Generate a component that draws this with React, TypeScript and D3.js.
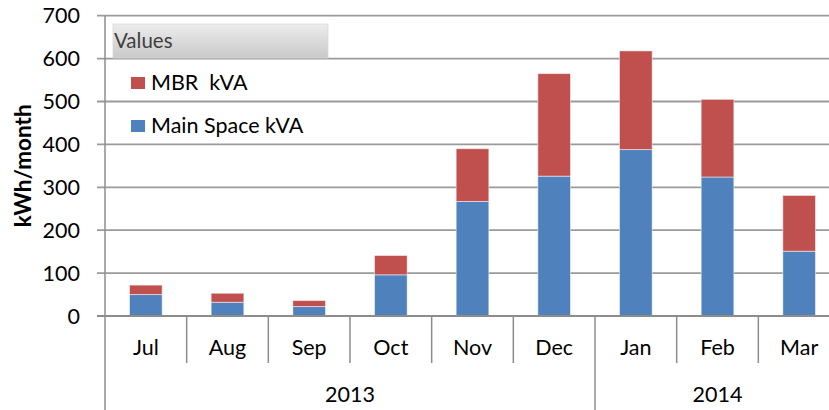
import { useEffect } from "react";
import * as d3 from "d3";

const months = ["Jul", "Aug", "Sep", "Oct", "Nov", "Dec", "Jan", "Feb", "Mar"];
const years = [
  { label: "2013", from: "Jul", to: "Dec" },
  { label: "2014", from: "Jan", to: "Mar" },
];
const mainSpace = [50, 32, 22, 96, 267, 326, 388, 324, 151];
const mbr = [22, 21, 14, 45, 123, 239, 230, 181, 130];
const yTicks = [0, 100, 200, 300, 400, 500, 600, 700];

const BLUE = "#4F81BD";
const RED = "#C0504D";
const AXIS = "#8c8c8c";
const FONT = "Lato, 'Open Sans', sans-serif";

export default function App() {
  useEffect(() => {
    document.body.style.margin = "0";
  }, []);

  const width = 829;
  const height = 410;
  const left = 105;
  const right = 840;
  const top = 15.7;
  const bottom = 316;

  const x = d3
    .scaleBand<string>()
    .domain(months)
    .range([left, right])
    .paddingInner(0.6)
    .paddingOuter(0.3);
  const step = x.step();
  const y = d3.scaleLinear().domain([0, 700]).range([bottom, top]);

  const stacked = d3
    .stack<number>()
    .keys(["main", "mbr"])
    .value((i, key) => (key === "main" ? mainSpace[i] : mbr[i]))(
    months.map((_, i) => i)
  );
  const colors = [BLUE, RED];

  // left edge of a month's slot on the category axis
  const edge = (m: string) => (x(m) as number) - step * 0.3;

  return (
    <svg width={width} height={height} style={{ display: "block" }} fontFamily={FONT}>
      <defs>
        <linearGradient id="legendHead" x1="0" y1="0" x2="0" y2="1">
          <stop offset="0" stopColor="#ececec" />
          <stop offset="1" stopColor="#c9c9c9" />
        </linearGradient>
      </defs>

      {/* gridlines + y ticks */}
      {yTicks.map((t) => (
        <g key={t}>
          <line x1={97} x2={width} y1={y(t)} y2={y(t)} stroke="#9a9a9a" strokeWidth={1.8} />
          <text x={80} y={y(t)} dy="0.35em" textAnchor="end" fontSize={21.5} fill="#000">
            {t}
          </text>
        </g>
      ))}

      {/* bars */}
      {stacked.map((layer, li) =>
        layer.map((d, i) => (
          <rect
            key={`${li}-${i}`}
            x={x(months[i])}
            y={y(d[1])}
            width={x.bandwidth()}
            height={y(d[0]) - y(d[1])}
            fill={colors[li]}
            stroke="#ffffff"
            strokeOpacity={0.5}
            strokeWidth={1}
          />
        ))
      )}

      {/* axes */}
      <line x1={left} x2={left} y1={top} y2={height} stroke={AXIS} strokeWidth={1.5} />
      <line x1={97} x2={width} y1={bottom} y2={bottom} stroke={AXIS} strokeWidth={1.8} />

      {/* month separators and labels */}
      {months.map((m, i) => {
        const isYearStart = years.some((yr) => yr.from === m);
        return (
          <g key={m}>
            {i > 0 && (
              <line
                x1={edge(m)}
                x2={edge(m)}
                y1={bottom}
                y2={isYearStart ? height : 363}
                stroke={AXIS}
                strokeWidth={1.5}
              />
            )}
            <text
              x={(x(m) as number) + x.bandwidth() / 2}
              y={355}
              textAnchor="middle"
              fontSize={21.5}
              fill="#000"
            >
              {m}
            </text>
          </g>
        );
      })}

      {/* year labels */}
      {years.map((yr) => {
        const x0 = edge(yr.from);
        const x1 = edge(yr.to) + step;
        return (
          <text key={yr.label} x={(x0 + x1) / 2} y={402} textAnchor="middle" fontSize={21.5} fill="#000">
            {yr.label}
          </text>
        );
      })}

      {/* y title */}
      <text
        transform={`translate(31, ${(top + bottom) / 2}) rotate(-90)`}
        textAnchor="middle"
        fontSize={22.5}
        fontWeight="bold"
        fill="#000"
      >
        kWh/month
      </text>

      {/* legend */}
      <rect x={113} y={24} width={215} height={34} fill="url(#legendHead)" stroke="#d9d9d9" strokeWidth={0.8} />
      <text x={114} y={48} fontSize={20.5} fill="#404040">
        Values
      </text>
      <rect x={131} y={77} width={14} height={12} fill={RED} />
      <text x={151} y={90} fontSize={21.5} fill="#000" style={{ whiteSpace: "pre" }}>
        MBR  kVA
      </text>
      <rect x={131} y={120} width={14} height={12} fill={BLUE} />
      <text x={151} y={133} fontSize={21.5} fill="#000">
        Main Space kVA
      </text>
    </svg>
  );
}
